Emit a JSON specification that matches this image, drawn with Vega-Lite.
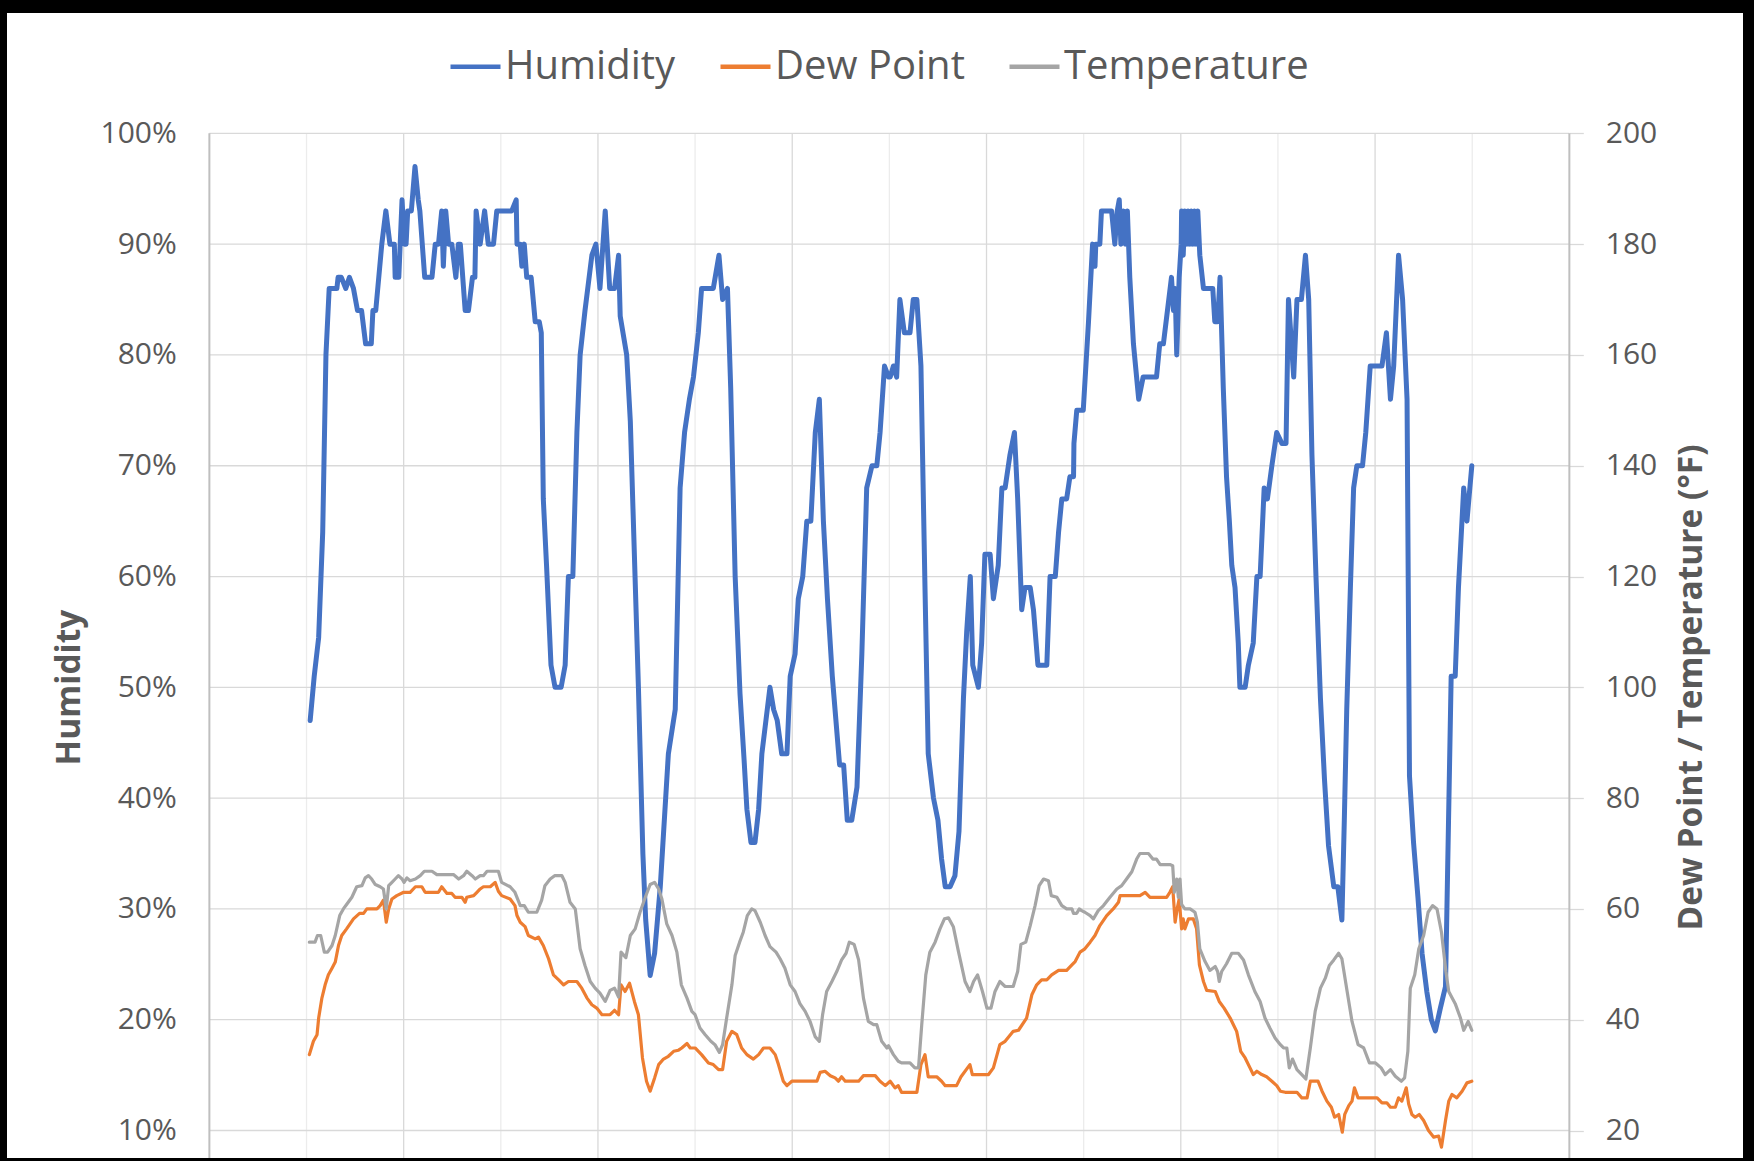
{
"$schema":"https://vega.github.io/schema/vega-lite/v6.json",
"width":1736,"height":1145,
"autosize":{"type":"none"},
"padding":{"left":7,"top":13,"right":11,"bottom":3},
"background":"black",
"config":{"view":{"fill":"white","stroke":null},"font":"Open Sans"},
"datasets":{
"vminor":[{"h":24},{"h":72},{"h":120},{"h":168},{"h":216},{"h":264},{"h":312}],
"vmajor":[{"h":48},{"h":96},{"h":144},{"h":192},{"h":240},{"h":288}],
"frame":[{"h":0},{"h":336}],
"hgrid":[{"p":10},{"p":20},{"p":30},{"p":40},{"p":50},{"p":60},{"p":70},{"p":80},{"p":90},{"p":100}],
"hum":[
{"h":24.9,"v":47,"s":"Humidity"},{"h":25.9,"v":51,"s":"Humidity"},{"h":27.0,"v":54.5,"s":"Humidity"},{"h":28.0,"v":64,"s":"Humidity"},{"h":28.8,"v":80,"s":"Humidity"},{"h":29.6,"v":86,"s":"Humidity"},{"h":31.5,"v":86,"s":"Humidity"},{"h":31.8,"v":87,"s":"Humidity"},{"h":32.6,"v":87,"s":"Humidity"},{"h":33.7,"v":86,"s":"Humidity"},{"h":34.6,"v":87,"s":"Humidity"},{"h":35.6,"v":86,"s":"Humidity"},{"h":36.6,"v":84,"s":"Humidity"},{"h":37.6,"v":84,"s":"Humidity"},{"h":38.6,"v":81,"s":"Humidity"},{"h":40.0,"v":81,"s":"Humidity"},{"h":40.4,"v":84,"s":"Humidity"},{"h":41.1,"v":84,"s":"Humidity"},{"h":42.6,"v":90,"s":"Humidity"},{"h":43.6,"v":93,"s":"Humidity"},{"h":44.6,"v":90,"s":"Humidity"},{"h":45.7,"v":90,"s":"Humidity"},{"h":45.9,"v":87,"s":"Humidity"},{"h":46.8,"v":87,"s":"Humidity"},{"h":47.6,"v":94,"s":"Humidity"},{"h":48.2,"v":90,"s":"Humidity"},{"h":48.6,"v":90,"s":"Humidity"},{"h":49.0,"v":93,"s":"Humidity"},{"h":49.9,"v":93,"s":"Humidity"},{"h":50.8,"v":97,"s":"Humidity"},{"h":51.6,"v":94,"s":"Humidity"},{"h":52.0,"v":93,"s":"Humidity"},{"h":53.2,"v":87,"s":"Humidity"},{"h":55.0,"v":87,"s":"Humidity"},{"h":55.8,"v":90,"s":"Humidity"},{"h":56.6,"v":90,"s":"Humidity"},{"h":57.4,"v":93,"s":"Humidity"},{"h":57.8,"v":88,"s":"Humidity"},{"h":58.4,"v":93,"s":"Humidity"},{"h":59.1,"v":90,"s":"Humidity"},{"h":59.9,"v":90,"s":"Humidity"},{"h":60.9,"v":87,"s":"Humidity"},{"h":61.5,"v":90,"s":"Humidity"},{"h":62.0,"v":90,"s":"Humidity"},{"h":63.2,"v":84,"s":"Humidity"},{"h":64.0,"v":84,"s":"Humidity"},{"h":65.0,"v":87,"s":"Humidity"},{"h":65.6,"v":87,"s":"Humidity"},{"h":65.9,"v":93,"s":"Humidity"},{"h":66.9,"v":90,"s":"Humidity"},{"h":68.0,"v":93,"s":"Humidity"},{"h":68.9,"v":90,"s":"Humidity"},{"h":70.2,"v":90,"s":"Humidity"},{"h":71.0,"v":93,"s":"Humidity"},{"h":74.7,"v":93,"s":"Humidity"},{"h":75.8,"v":94,"s":"Humidity"},{"h":76.0,"v":90,"s":"Humidity"},{"h":76.8,"v":90,"s":"Humidity"},{"h":77.2,"v":88,"s":"Humidity"},{"h":77.8,"v":90,"s":"Humidity"},{"h":78.4,"v":87,"s":"Humidity"},{"h":79.5,"v":87,"s":"Humidity"},{"h":80.5,"v":83,"s":"Humidity"},{"h":81.5,"v":83,"s":"Humidity"},{"h":82.0,"v":82,"s":"Humidity"},{"h":82.5,"v":67,"s":"Humidity"},{"h":83.3,"v":61,"s":"Humidity"},{"h":84.4,"v":52,"s":"Humidity"},{"h":85.4,"v":50,"s":"Humidity"},{"h":86.9,"v":50,"s":"Humidity"},{"h":87.9,"v":52,"s":"Humidity"},{"h":88.7,"v":60,"s":"Humidity"},{"h":89.8,"v":60,"s":"Humidity"},{"h":90.8,"v":73,"s":"Humidity"},{"h":91.6,"v":80,"s":"Humidity"},{"h":92.8,"v":84,"s":"Humidity"},{"h":94.5,"v":89,"s":"Humidity"},{"h":95.5,"v":90,"s":"Humidity"},{"h":96.5,"v":86,"s":"Humidity"},{"h":97.8,"v":93,"s":"Humidity"},{"h":98.9,"v":86,"s":"Humidity"},{"h":100.1,"v":86,"s":"Humidity"},{"h":101.1,"v":89,"s":"Humidity"},{"h":101.5,"v":83.5,"s":"Humidity"},{"h":103.1,"v":80,"s":"Humidity"},{"h":104.0,"v":74,"s":"Humidity"},{"h":106.0,"v":50,"s":"Humidity"},{"h":107.1,"v":35,"s":"Humidity"},{"h":107.8,"v":29,"s":"Humidity"},{"h":108.9,"v":24,"s":"Humidity"},{"h":110.0,"v":26,"s":"Humidity"},{"h":111.4,"v":32,"s":"Humidity"},{"h":113.4,"v":44,"s":"Humidity"},{"h":115.1,"v":48,"s":"Humidity"},{"h":116.3,"v":68,"s":"Humidity"},{"h":117.4,"v":73,"s":"Humidity"},{"h":118.6,"v":76,"s":"Humidity"},{"h":119.6,"v":78,"s":"Humidity"},{"h":120.8,"v":82,"s":"Humidity"},{"h":121.6,"v":86,"s":"Humidity"},{"h":124.5,"v":86,"s":"Humidity"},{"h":125.9,"v":89,"s":"Humidity"},{"h":126.8,"v":85,"s":"Humidity"},{"h":128.0,"v":86,"s":"Humidity"},{"h":128.8,"v":77,"s":"Humidity"},{"h":129.9,"v":60,"s":"Humidity"},{"h":131.1,"v":49.4,"s":"Humidity"},{"h":132.1,"v":43.5,"s":"Humidity"},{"h":132.8,"v":39,"s":"Humidity"},{"h":133.8,"v":36,"s":"Humidity"},{"h":134.8,"v":36,"s":"Humidity"},{"h":135.7,"v":39,"s":"Humidity"},{"h":136.5,"v":44,"s":"Humidity"},{"h":137.5,"v":47,"s":"Humidity"},{"h":138.5,"v":50,"s":"Humidity"},{"h":139.4,"v":48,"s":"Humidity"},{"h":140.3,"v":47,"s":"Humidity"},{"h":141.4,"v":44,"s":"Humidity"},{"h":142.7,"v":44,"s":"Humidity"},{"h":143.5,"v":51,"s":"Humidity"},{"h":144.7,"v":53,"s":"Humidity"},{"h":145.5,"v":58,"s":"Humidity"},{"h":146.6,"v":60,"s":"Humidity"},{"h":147.6,"v":65,"s":"Humidity"},{"h":148.6,"v":65,"s":"Humidity"},{"h":149.7,"v":73,"s":"Humidity"},{"h":150.7,"v":76,"s":"Humidity"},{"h":151.7,"v":65,"s":"Humidity"},{"h":152.7,"v":58,"s":"Humidity"},{"h":153.9,"v":51,"s":"Humidity"},{"h":155.7,"v":43,"s":"Humidity"},{"h":156.7,"v":43,"s":"Humidity"},{"h":157.6,"v":38,"s":"Humidity"},{"h":158.7,"v":38,"s":"Humidity"},{"h":160.0,"v":41,"s":"Humidity"},{"h":161.2,"v":53,"s":"Humidity"},{"h":162.4,"v":68,"s":"Humidity"},{"h":163.7,"v":70,"s":"Humidity"},{"h":164.9,"v":70,"s":"Humidity"},{"h":165.7,"v":73,"s":"Humidity"},{"h":166.8,"v":79,"s":"Humidity"},{"h":167.8,"v":78,"s":"Humidity"},{"h":168.2,"v":78,"s":"Humidity"},{"h":169.0,"v":79,"s":"Humidity"},{"h":169.8,"v":78,"s":"Humidity"},{"h":170.6,"v":85,"s":"Humidity"},{"h":171.7,"v":82,"s":"Humidity"},{"h":173.1,"v":82,"s":"Humidity"},{"h":173.9,"v":85,"s":"Humidity"},{"h":174.8,"v":85,"s":"Humidity"},{"h":175.8,"v":79,"s":"Humidity"},{"h":176.8,"v":59,"s":"Humidity"},{"h":177.6,"v":44,"s":"Humidity"},{"h":178.9,"v":40,"s":"Humidity"},{"h":180.0,"v":38,"s":"Humidity"},{"h":180.9,"v":34.5,"s":"Humidity"},{"h":181.8,"v":32,"s":"Humidity"},{"h":183.0,"v":32,"s":"Humidity"},{"h":184.2,"v":33,"s":"Humidity"},{"h":185.2,"v":37,"s":"Humidity"},{"h":186.3,"v":49,"s":"Humidity"},{"h":187.1,"v":55,"s":"Humidity"},{"h":188.0,"v":60,"s":"Humidity"},{"h":188.6,"v":52,"s":"Humidity"},{"h":190.0,"v":50,"s":"Humidity"},{"h":190.8,"v":54,"s":"Humidity"},{"h":191.6,"v":62,"s":"Humidity"},{"h":192.9,"v":62,"s":"Humidity"},{"h":193.7,"v":58,"s":"Humidity"},{"h":194.9,"v":61,"s":"Humidity"},{"h":195.8,"v":68,"s":"Humidity"},{"h":196.6,"v":68,"s":"Humidity"},{"h":197.8,"v":71,"s":"Humidity"},{"h":198.9,"v":73,"s":"Humidity"},{"h":199.7,"v":67,"s":"Humidity"},{"h":200.7,"v":57,"s":"Humidity"},{"h":201.5,"v":59,"s":"Humidity"},{"h":202.8,"v":59,"s":"Humidity"},{"h":203.6,"v":57,"s":"Humidity"},{"h":204.7,"v":52,"s":"Humidity"},{"h":206.9,"v":52,"s":"Humidity"},{"h":207.7,"v":60,"s":"Humidity"},{"h":209.0,"v":60,"s":"Humidity"},{"h":209.8,"v":64,"s":"Humidity"},{"h":210.6,"v":67,"s":"Humidity"},{"h":211.8,"v":67,"s":"Humidity"},{"h":212.6,"v":69,"s":"Humidity"},{"h":213.5,"v":69,"s":"Humidity"},{"h":213.6,"v":72,"s":"Humidity"},{"h":214.3,"v":75,"s":"Humidity"},{"h":215.9,"v":75,"s":"Humidity"},{"h":217.2,"v":83,"s":"Humidity"},{"h":218.2,"v":90,"s":"Humidity"},{"h":218.8,"v":88,"s":"Humidity"},{"h":219.0,"v":90,"s":"Humidity"},{"h":220.0,"v":90,"s":"Humidity"},{"h":220.4,"v":93,"s":"Humidity"},{"h":222.9,"v":93,"s":"Humidity"},{"h":223.7,"v":90,"s":"Humidity"},{"h":224.3,"v":93,"s":"Humidity"},{"h":224.8,"v":94,"s":"Humidity"},{"h":225.2,"v":90,"s":"Humidity"},{"h":225.8,"v":93,"s":"Humidity"},{"h":226.3,"v":90,"s":"Humidity"},{"h":226.8,"v":93,"s":"Humidity"},{"h":227.4,"v":87,"s":"Humidity"},{"h":228.3,"v":81,"s":"Humidity"},{"h":229.6,"v":76,"s":"Humidity"},{"h":230.7,"v":78,"s":"Humidity"},{"h":234.0,"v":78,"s":"Humidity"},{"h":234.8,"v":81,"s":"Humidity"},{"h":235.7,"v":81,"s":"Humidity"},{"h":236.7,"v":84,"s":"Humidity"},{"h":237.7,"v":87,"s":"Humidity"},{"h":238.2,"v":84,"s":"Humidity"},{"h":238.6,"v":86,"s":"Humidity"},{"h":239.0,"v":80,"s":"Humidity"},{"h":239.6,"v":87,"s":"Humidity"},{"h":240.1,"v":90,"s":"Humidity"},{"h":240.2,"v":93,"s":"Humidity"},{"h":240.6,"v":89,"s":"Humidity"},{"h":241.0,"v":93,"s":"Humidity"},{"h":241.4,"v":90,"s":"Humidity"},{"h":241.8,"v":93,"s":"Humidity"},{"h":242.2,"v":90,"s":"Humidity"},{"h":242.6,"v":93,"s":"Humidity"},{"h":243.0,"v":90,"s":"Humidity"},{"h":243.4,"v":93,"s":"Humidity"},{"h":243.8,"v":90,"s":"Humidity"},{"h":244.2,"v":93,"s":"Humidity"},{"h":244.7,"v":89,"s":"Humidity"},{"h":245.6,"v":86,"s":"Humidity"},{"h":247.9,"v":86,"s":"Humidity"},{"h":248.4,"v":83,"s":"Humidity"},{"h":249.1,"v":83,"s":"Humidity"},{"h":249.7,"v":87,"s":"Humidity"},{"h":250.5,"v":77,"s":"Humidity"},{"h":251.3,"v":69,"s":"Humidity"},{"h":252.0,"v":65,"s":"Humidity"},{"h":252.6,"v":61,"s":"Humidity"},{"h":253.4,"v":59,"s":"Humidity"},{"h":254.2,"v":54,"s":"Humidity"},{"h":254.6,"v":50,"s":"Humidity"},{"h":255.9,"v":50,"s":"Humidity"},{"h":256.7,"v":52,"s":"Humidity"},{"h":257.9,"v":54,"s":"Humidity"},{"h":258.8,"v":60,"s":"Humidity"},{"h":259.6,"v":60,"s":"Humidity"},{"h":260.6,"v":68,"s":"Humidity"},{"h":261.4,"v":67,"s":"Humidity"},{"h":262.5,"v":70,"s":"Humidity"},{"h":263.7,"v":73,"s":"Humidity"},{"h":265.0,"v":72,"s":"Humidity"},{"h":266.0,"v":72,"s":"Humidity"},{"h":266.6,"v":85,"s":"Humidity"},{"h":267.9,"v":78,"s":"Humidity"},{"h":268.7,"v":85,"s":"Humidity"},{"h":269.8,"v":85,"s":"Humidity"},{"h":270.8,"v":89,"s":"Humidity"},{"h":271.6,"v":85,"s":"Humidity"},{"h":272.4,"v":71,"s":"Humidity"},{"h":273.4,"v":60,"s":"Humidity"},{"h":274.5,"v":49,"s":"Humidity"},{"h":275.5,"v":41.7,"s":"Humidity"},{"h":276.5,"v":35.7,"s":"Humidity"},{"h":277.8,"v":32,"s":"Humidity"},{"h":278.8,"v":32,"s":"Humidity"},{"h":279.8,"v":29,"s":"Humidity"},{"h":280.4,"v":38,"s":"Humidity"},{"h":281.0,"v":48,"s":"Humidity"},{"h":281.9,"v":59,"s":"Humidity"},{"h":282.7,"v":68,"s":"Humidity"},{"h":283.5,"v":70,"s":"Humidity"},{"h":284.9,"v":70,"s":"Humidity"},{"h":285.7,"v":73,"s":"Humidity"},{"h":286.8,"v":79,"s":"Humidity"},{"h":289.7,"v":79,"s":"Humidity"},{"h":290.8,"v":82,"s":"Humidity"},{"h":291.8,"v":76,"s":"Humidity"},{"h":292.6,"v":79,"s":"Humidity"},{"h":293.8,"v":89,"s":"Humidity"},{"h":294.8,"v":85,"s":"Humidity"},{"h":295.9,"v":76,"s":"Humidity"},{"h":296.5,"v":42,"s":"Humidity"},{"h":297.5,"v":36,"s":"Humidity"},{"h":298.6,"v":31,"s":"Humidity"},{"h":299.6,"v":26,"s":"Humidity"},{"h":300.8,"v":22.5,"s":"Humidity"},{"h":301.9,"v":20,"s":"Humidity"},{"h":302.9,"v":19,"s":"Humidity"},{"h":304.1,"v":21,"s":"Humidity"},{"h":305.4,"v":23,"s":"Humidity"},{"h":306.0,"v":35,"s":"Humidity"},{"h":306.8,"v":51,"s":"Humidity"},{"h":307.8,"v":51,"s":"Humidity"},{"h":308.6,"v":59,"s":"Humidity"},{"h":309.9,"v":68,"s":"Humidity"},{"h":310.7,"v":65,"s":"Humidity"},{"h":311.9,"v":70,"s":"Humidity"}
],
"dew":[
{"h":24.7,"v":33.7,"s":"Dew Point"},{"h":25.7,"v":36.1,"s":"Dew Point"},{"h":26.6,"v":37.3,"s":"Dew Point"},{"h":27.0,"v":40.3,"s":"Dew Point"},{"h":27.8,"v":43.9,"s":"Dew Point"},{"h":28.6,"v":46.3,"s":"Dew Point"},{"h":29.4,"v":48.1,"s":"Dew Point"},{"h":30.3,"v":49.3,"s":"Dew Point"},{"h":31.1,"v":50.4,"s":"Dew Point"},{"h":31.9,"v":53.4,"s":"Dew Point"},{"h":32.7,"v":55.2,"s":"Dew Point"},{"h":33.9,"v":56.4,"s":"Dew Point"},{"h":35.6,"v":58.2,"s":"Dew Point"},{"h":37.1,"v":59.2,"s":"Dew Point"},{"h":38.1,"v":59.2,"s":"Dew Point"},{"h":38.9,"v":60,"s":"Dew Point"},{"h":41.4,"v":60,"s":"Dew Point"},{"h":42.2,"v":60.6,"s":"Dew Point"},{"h":43.0,"v":61.6,"s":"Dew Point"},{"h":43.7,"v":57.6,"s":"Dew Point"},{"h":44.3,"v":60,"s":"Dew Point"},{"h":45.1,"v":61.8,"s":"Dew Point"},{"h":46.3,"v":62.4,"s":"Dew Point"},{"h":48.0,"v":63,"s":"Dew Point"},{"h":49.6,"v":63,"s":"Dew Point"},{"h":50.9,"v":64,"s":"Dew Point"},{"h":52.5,"v":64,"s":"Dew Point"},{"h":53.3,"v":63,"s":"Dew Point"},{"h":56.6,"v":63,"s":"Dew Point"},{"h":57.4,"v":64,"s":"Dew Point"},{"h":58.7,"v":62.8,"s":"Dew Point"},{"h":59.9,"v":62.8,"s":"Dew Point"},{"h":60.7,"v":62.1,"s":"Dew Point"},{"h":62.4,"v":62.1,"s":"Dew Point"},{"h":63.2,"v":61.2,"s":"Dew Point"},{"h":63.6,"v":62.1,"s":"Dew Point"},{"h":65.3,"v":62.4,"s":"Dew Point"},{"h":66.1,"v":63,"s":"Dew Point"},{"h":66.9,"v":63.6,"s":"Dew Point"},{"h":67.7,"v":64,"s":"Dew Point"},{"h":69.4,"v":64,"s":"Dew Point"},{"h":70.6,"v":64.8,"s":"Dew Point"},{"h":71.4,"v":63.2,"s":"Dew Point"},{"h":72.2,"v":62.4,"s":"Dew Point"},{"h":74.3,"v":61.8,"s":"Dew Point"},{"h":75.5,"v":60.6,"s":"Dew Point"},{"h":76.0,"v":58.8,"s":"Dew Point"},{"h":76.8,"v":57.6,"s":"Dew Point"},{"h":78.0,"v":56.8,"s":"Dew Point"},{"h":78.8,"v":55.2,"s":"Dew Point"},{"h":80.5,"v":54.6,"s":"Dew Point"},{"h":81.3,"v":54.9,"s":"Dew Point"},{"h":82.5,"v":53.4,"s":"Dew Point"},{"h":83.8,"v":51,"s":"Dew Point"},{"h":85.0,"v":48.1,"s":"Dew Point"},{"h":86.3,"v":47.2,"s":"Dew Point"},{"h":87.5,"v":46.3,"s":"Dew Point"},{"h":88.7,"v":46.9,"s":"Dew Point"},{"h":90.8,"v":46.9,"s":"Dew Point"},{"h":92.0,"v":45.7,"s":"Dew Point"},{"h":93.3,"v":43.9,"s":"Dew Point"},{"h":94.5,"v":42.7,"s":"Dew Point"},{"h":95.7,"v":42.1,"s":"Dew Point"},{"h":97.0,"v":40.9,"s":"Dew Point"},{"h":99.0,"v":40.9,"s":"Dew Point"},{"h":100.1,"v":41.7,"s":"Dew Point"},{"h":101.1,"v":40.9,"s":"Dew Point"},{"h":101.7,"v":46.3,"s":"Dew Point"},{"h":102.7,"v":45.1,"s":"Dew Point"},{"h":103.8,"v":46.6,"s":"Dew Point"},{"h":105.0,"v":43.3,"s":"Dew Point"},{"h":106.0,"v":40.9,"s":"Dew Point"},{"h":107.0,"v":33.1,"s":"Dew Point"},{"h":108.0,"v":28.9,"s":"Dew Point"},{"h":108.9,"v":27.1,"s":"Dew Point"},{"h":110.0,"v":29.5,"s":"Dew Point"},{"h":111.0,"v":31.9,"s":"Dew Point"},{"h":112.2,"v":32.9,"s":"Dew Point"},{"h":113.4,"v":33.4,"s":"Dew Point"},{"h":114.7,"v":34.3,"s":"Dew Point"},{"h":115.9,"v":34.5,"s":"Dew Point"},{"h":116.7,"v":34.9,"s":"Dew Point"},{"h":118.0,"v":35.7,"s":"Dew Point"},{"h":118.8,"v":34.9,"s":"Dew Point"},{"h":120.0,"v":34.9,"s":"Dew Point"},{"h":121.6,"v":33.7,"s":"Dew Point"},{"h":123.3,"v":32.2,"s":"Dew Point"},{"h":124.5,"v":31.9,"s":"Dew Point"},{"h":125.8,"v":31,"s":"Dew Point"},{"h":126.8,"v":31,"s":"Dew Point"},{"h":127.8,"v":36.1,"s":"Dew Point"},{"h":129.1,"v":37.9,"s":"Dew Point"},{"h":130.3,"v":37.3,"s":"Dew Point"},{"h":131.5,"v":34.9,"s":"Dew Point"},{"h":132.8,"v":33.7,"s":"Dew Point"},{"h":134.4,"v":32.9,"s":"Dew Point"},{"h":135.7,"v":33.7,"s":"Dew Point"},{"h":136.9,"v":34.9,"s":"Dew Point"},{"h":138.5,"v":34.9,"s":"Dew Point"},{"h":139.8,"v":33.7,"s":"Dew Point"},{"h":140.6,"v":31.9,"s":"Dew Point"},{"h":141.8,"v":28.9,"s":"Dew Point"},{"h":142.7,"v":28.1,"s":"Dew Point"},{"h":143.9,"v":28.9,"s":"Dew Point"},{"h":150.1,"v":28.9,"s":"Dew Point"},{"h":150.9,"v":30.5,"s":"Dew Point"},{"h":152.1,"v":30.7,"s":"Dew Point"},{"h":153.4,"v":29.9,"s":"Dew Point"},{"h":154.6,"v":29.5,"s":"Dew Point"},{"h":155.4,"v":28.9,"s":"Dew Point"},{"h":156.2,"v":29.7,"s":"Dew Point"},{"h":157.1,"v":28.9,"s":"Dew Point"},{"h":160.4,"v":28.9,"s":"Dew Point"},{"h":161.6,"v":29.9,"s":"Dew Point"},{"h":164.5,"v":29.9,"s":"Dew Point"},{"h":165.7,"v":28.9,"s":"Dew Point"},{"h":167.0,"v":28.1,"s":"Dew Point"},{"h":168.2,"v":28.9,"s":"Dew Point"},{"h":169.4,"v":27.7,"s":"Dew Point"},{"h":170.2,"v":28.1,"s":"Dew Point"},{"h":171.0,"v":26.9,"s":"Dew Point"},{"h":174.8,"v":26.9,"s":"Dew Point"},{"h":175.8,"v":31.9,"s":"Dew Point"},{"h":176.8,"v":33.7,"s":"Dew Point"},{"h":177.6,"v":29.7,"s":"Dew Point"},{"h":179.7,"v":29.7,"s":"Dew Point"},{"h":180.9,"v":28.9,"s":"Dew Point"},{"h":181.8,"v":28.1,"s":"Dew Point"},{"h":184.6,"v":28.1,"s":"Dew Point"},{"h":185.7,"v":29.7,"s":"Dew Point"},{"h":187.9,"v":31.9,"s":"Dew Point"},{"h":188.5,"v":30.1,"s":"Dew Point"},{"h":192.5,"v":30.1,"s":"Dew Point"},{"h":193.7,"v":31.3,"s":"Dew Point"},{"h":195.3,"v":35.5,"s":"Dew Point"},{"h":196.6,"v":36.1,"s":"Dew Point"},{"h":198.6,"v":37.9,"s":"Dew Point"},{"h":199.9,"v":38.1,"s":"Dew Point"},{"h":201.9,"v":40.3,"s":"Dew Point"},{"h":203.2,"v":44.5,"s":"Dew Point"},{"h":204.4,"v":46.3,"s":"Dew Point"},{"h":205.6,"v":47.2,"s":"Dew Point"},{"h":206.9,"v":47.2,"s":"Dew Point"},{"h":208.1,"v":48.1,"s":"Dew Point"},{"h":209.8,"v":48.9,"s":"Dew Point"},{"h":211.8,"v":48.9,"s":"Dew Point"},{"h":213.1,"v":49.9,"s":"Dew Point"},{"h":213.9,"v":50.5,"s":"Dew Point"},{"h":215.1,"v":52.2,"s":"Dew Point"},{"h":216.3,"v":52.8,"s":"Dew Point"},{"h":217.6,"v":54,"s":"Dew Point"},{"h":218.8,"v":55.2,"s":"Dew Point"},{"h":220.0,"v":57,"s":"Dew Point"},{"h":221.7,"v":58.8,"s":"Dew Point"},{"h":223.3,"v":60,"s":"Dew Point"},{"h":224.6,"v":61.2,"s":"Dew Point"},{"h":225.0,"v":62.4,"s":"Dew Point"},{"h":229.9,"v":62.4,"s":"Dew Point"},{"h":231.2,"v":63,"s":"Dew Point"},{"h":232.4,"v":62.1,"s":"Dew Point"},{"h":236.5,"v":62.1,"s":"Dew Point"},{"h":237.3,"v":63,"s":"Dew Point"},{"h":238.0,"v":64,"s":"Dew Point"},{"h":238.6,"v":57.6,"s":"Dew Point"},{"h":239.1,"v":60,"s":"Dew Point"},{"h":239.6,"v":61.8,"s":"Dew Point"},{"h":240.2,"v":56.4,"s":"Dew Point"},{"h":240.6,"v":58.2,"s":"Dew Point"},{"h":241.0,"v":56.4,"s":"Dew Point"},{"h":241.9,"v":58.2,"s":"Dew Point"},{"h":243.1,"v":58.2,"s":"Dew Point"},{"h":243.9,"v":56.4,"s":"Dew Point"},{"h":244.6,"v":49.9,"s":"Dew Point"},{"h":245.6,"v":46.9,"s":"Dew Point"},{"h":246.4,"v":45.3,"s":"Dew Point"},{"h":248.5,"v":45.1,"s":"Dew Point"},{"h":249.5,"v":43.3,"s":"Dew Point"},{"h":250.7,"v":42.1,"s":"Dew Point"},{"h":252.2,"v":40.3,"s":"Dew Point"},{"h":253.0,"v":39.1,"s":"Dew Point"},{"h":253.8,"v":37.9,"s":"Dew Point"},{"h":254.8,"v":34.3,"s":"Dew Point"},{"h":255.9,"v":33.1,"s":"Dew Point"},{"h":257.1,"v":31.3,"s":"Dew Point"},{"h":257.9,"v":30.1,"s":"Dew Point"},{"h":258.8,"v":30.7,"s":"Dew Point"},{"h":260.0,"v":30.1,"s":"Dew Point"},{"h":261.2,"v":29.7,"s":"Dew Point"},{"h":262.5,"v":28.9,"s":"Dew Point"},{"h":263.7,"v":28.1,"s":"Dew Point"},{"h":264.6,"v":27.1,"s":"Dew Point"},{"h":265.8,"v":26.9,"s":"Dew Point"},{"h":268.7,"v":26.9,"s":"Dew Point"},{"h":269.9,"v":25.9,"s":"Dew Point"},{"h":271.2,"v":25.9,"s":"Dew Point"},{"h":272.0,"v":28.9,"s":"Dew Point"},{"h":273.9,"v":28.9,"s":"Dew Point"},{"h":274.9,"v":27.1,"s":"Dew Point"},{"h":276.1,"v":25.3,"s":"Dew Point"},{"h":277.2,"v":24.2,"s":"Dew Point"},{"h":278.0,"v":22.4,"s":"Dew Point"},{"h":279.0,"v":22.9,"s":"Dew Point"},{"h":279.9,"v":19.7,"s":"Dew Point"},{"h":280.5,"v":22.9,"s":"Dew Point"},{"h":281.5,"v":24.5,"s":"Dew Point"},{"h":282.3,"v":25.3,"s":"Dew Point"},{"h":282.9,"v":27.7,"s":"Dew Point"},{"h":283.8,"v":25.9,"s":"Dew Point"},{"h":288.5,"v":25.9,"s":"Dew Point"},{"h":289.7,"v":25,"s":"Dew Point"},{"h":290.9,"v":25,"s":"Dew Point"},{"h":291.8,"v":24.2,"s":"Dew Point"},{"h":293.0,"v":24.2,"s":"Dew Point"},{"h":293.8,"v":25.9,"s":"Dew Point"},{"h":294.6,"v":25.3,"s":"Dew Point"},{"h":295.7,"v":27.7,"s":"Dew Point"},{"h":296.3,"v":24.8,"s":"Dew Point"},{"h":297.1,"v":22.9,"s":"Dew Point"},{"h":297.9,"v":22.4,"s":"Dew Point"},{"h":298.9,"v":22.9,"s":"Dew Point"},{"h":300.0,"v":21.8,"s":"Dew Point"},{"h":301.2,"v":20,"s":"Dew Point"},{"h":302.5,"v":18.8,"s":"Dew Point"},{"h":303.7,"v":19,"s":"Dew Point"},{"h":304.4,"v":17,"s":"Dew Point"},{"h":305.4,"v":21.8,"s":"Dew Point"},{"h":306.2,"v":25.3,"s":"Dew Point"},{"h":307.0,"v":26.5,"s":"Dew Point"},{"h":308.2,"v":25.9,"s":"Dew Point"},{"h":309.5,"v":27.1,"s":"Dew Point"},{"h":310.7,"v":28.6,"s":"Dew Point"},{"h":311.9,"v":28.9,"s":"Dew Point"}
],
"tmp":[
{"h":24.7,"v":54,"s":"Temperature"},{"h":26.1,"v":54,"s":"Temperature"},{"h":26.7,"v":55.2,"s":"Temperature"},{"h":27.5,"v":55.2,"s":"Temperature"},{"h":28.4,"v":52.2,"s":"Temperature"},{"h":29.2,"v":52.2,"s":"Temperature"},{"h":30.3,"v":53.4,"s":"Temperature"},{"h":31.1,"v":55.2,"s":"Temperature"},{"h":32.2,"v":58.8,"s":"Temperature"},{"h":33.1,"v":60,"s":"Temperature"},{"h":33.9,"v":60.8,"s":"Temperature"},{"h":35.2,"v":62.1,"s":"Temperature"},{"h":36.4,"v":64,"s":"Temperature"},{"h":37.7,"v":64.2,"s":"Temperature"},{"h":38.5,"v":65.6,"s":"Temperature"},{"h":39.3,"v":66,"s":"Temperature"},{"h":40.1,"v":65.4,"s":"Temperature"},{"h":41.0,"v":64.4,"s":"Temperature"},{"h":42.2,"v":64,"s":"Temperature"},{"h":43.0,"v":63.6,"s":"Temperature"},{"h":43.7,"v":60,"s":"Temperature"},{"h":44.3,"v":64.2,"s":"Temperature"},{"h":45.1,"v":64.8,"s":"Temperature"},{"h":45.9,"v":65.4,"s":"Temperature"},{"h":46.7,"v":66,"s":"Temperature"},{"h":47.6,"v":65.4,"s":"Temperature"},{"h":48.1,"v":64.8,"s":"Temperature"},{"h":48.8,"v":65.6,"s":"Temperature"},{"h":49.6,"v":65.1,"s":"Temperature"},{"h":50.9,"v":65.4,"s":"Temperature"},{"h":52.1,"v":66,"s":"Temperature"},{"h":53.1,"v":66.8,"s":"Temperature"},{"h":55.0,"v":66.8,"s":"Temperature"},{"h":56.2,"v":66.2,"s":"Temperature"},{"h":60.3,"v":66.2,"s":"Temperature"},{"h":61.6,"v":65.4,"s":"Temperature"},{"h":62.8,"v":66,"s":"Temperature"},{"h":63.6,"v":66.8,"s":"Temperature"},{"h":64.9,"v":66,"s":"Temperature"},{"h":65.7,"v":65.4,"s":"Temperature"},{"h":66.9,"v":66,"s":"Temperature"},{"h":67.7,"v":66,"s":"Temperature"},{"h":68.6,"v":66.8,"s":"Temperature"},{"h":71.4,"v":66.8,"s":"Temperature"},{"h":72.2,"v":64.8,"s":"Temperature"},{"h":74.3,"v":64,"s":"Temperature"},{"h":75.5,"v":63,"s":"Temperature"},{"h":76.8,"v":60.6,"s":"Temperature"},{"h":77.8,"v":60.6,"s":"Temperature"},{"h":78.8,"v":59.4,"s":"Temperature"},{"h":80.9,"v":59.4,"s":"Temperature"},{"h":82.1,"v":61.6,"s":"Temperature"},{"h":82.9,"v":64.2,"s":"Temperature"},{"h":84.2,"v":65.4,"s":"Temperature"},{"h":85.3,"v":66,"s":"Temperature"},{"h":87.1,"v":66,"s":"Temperature"},{"h":87.9,"v":64.8,"s":"Temperature"},{"h":89.1,"v":61.2,"s":"Temperature"},{"h":90.4,"v":60,"s":"Temperature"},{"h":91.6,"v":52.8,"s":"Temperature"},{"h":92.8,"v":49.8,"s":"Temperature"},{"h":94.1,"v":46.9,"s":"Temperature"},{"h":95.3,"v":45.7,"s":"Temperature"},{"h":96.5,"v":44.8,"s":"Temperature"},{"h":97.8,"v":43.3,"s":"Temperature"},{"h":99.0,"v":45.3,"s":"Temperature"},{"h":100.1,"v":45.7,"s":"Temperature"},{"h":101.1,"v":44.1,"s":"Temperature"},{"h":101.7,"v":52.2,"s":"Temperature"},{"h":102.9,"v":51.2,"s":"Temperature"},{"h":104.0,"v":55.2,"s":"Temperature"},{"h":105.2,"v":56.4,"s":"Temperature"},{"h":106.4,"v":59.4,"s":"Temperature"},{"h":107.7,"v":62.1,"s":"Temperature"},{"h":108.9,"v":64.4,"s":"Temperature"},{"h":110.0,"v":64.8,"s":"Temperature"},{"h":111.0,"v":63.6,"s":"Temperature"},{"h":111.8,"v":61.8,"s":"Temperature"},{"h":113.0,"v":57.3,"s":"Temperature"},{"h":114.3,"v":55.2,"s":"Temperature"},{"h":115.5,"v":52.2,"s":"Temperature"},{"h":116.6,"v":46.3,"s":"Temperature"},{"h":118.0,"v":43.9,"s":"Temperature"},{"h":119.2,"v":41.5,"s":"Temperature"},{"h":120.0,"v":40.9,"s":"Temperature"},{"h":121.2,"v":38.5,"s":"Temperature"},{"h":122.5,"v":37.3,"s":"Temperature"},{"h":123.9,"v":36.1,"s":"Temperature"},{"h":124.9,"v":35.5,"s":"Temperature"},{"h":126.0,"v":34.1,"s":"Temperature"},{"h":126.8,"v":35.5,"s":"Temperature"},{"h":127.8,"v":40.3,"s":"Temperature"},{"h":129.1,"v":46.3,"s":"Temperature"},{"h":129.9,"v":51.6,"s":"Temperature"},{"h":131.0,"v":54,"s":"Temperature"},{"h":131.9,"v":55.8,"s":"Temperature"},{"h":132.9,"v":58.8,"s":"Temperature"},{"h":134.0,"v":60,"s":"Temperature"},{"h":134.8,"v":59.7,"s":"Temperature"},{"h":136.1,"v":57.6,"s":"Temperature"},{"h":137.3,"v":55.2,"s":"Temperature"},{"h":138.5,"v":53.2,"s":"Temperature"},{"h":140.0,"v":52.2,"s":"Temperature"},{"h":141.0,"v":51,"s":"Temperature"},{"h":142.2,"v":49.3,"s":"Temperature"},{"h":143.5,"v":46.3,"s":"Temperature"},{"h":144.7,"v":45.1,"s":"Temperature"},{"h":145.9,"v":42.9,"s":"Temperature"},{"h":147.2,"v":41.5,"s":"Temperature"},{"h":148.4,"v":39.7,"s":"Temperature"},{"h":149.7,"v":36.9,"s":"Temperature"},{"h":150.7,"v":36.1,"s":"Temperature"},{"h":151.5,"v":40.9,"s":"Temperature"},{"h":152.5,"v":45.1,"s":"Temperature"},{"h":153.8,"v":46.9,"s":"Temperature"},{"h":155.0,"v":48.7,"s":"Temperature"},{"h":156.2,"v":50.8,"s":"Temperature"},{"h":157.3,"v":52,"s":"Temperature"},{"h":158.1,"v":54,"s":"Temperature"},{"h":159.3,"v":53.6,"s":"Temperature"},{"h":160.4,"v":50.8,"s":"Temperature"},{"h":161.6,"v":43.9,"s":"Temperature"},{"h":162.8,"v":39.7,"s":"Temperature"},{"h":164.1,"v":39.1,"s":"Temperature"},{"h":164.9,"v":39.1,"s":"Temperature"},{"h":166.1,"v":36.1,"s":"Temperature"},{"h":167.4,"v":34.9,"s":"Temperature"},{"h":167.8,"v":35.3,"s":"Temperature"},{"h":169.0,"v":33.7,"s":"Temperature"},{"h":170.2,"v":32.5,"s":"Temperature"},{"h":171.0,"v":32.2,"s":"Temperature"},{"h":173.1,"v":32.2,"s":"Temperature"},{"h":174.3,"v":31.3,"s":"Temperature"},{"h":175.2,"v":31.3,"s":"Temperature"},{"h":176.0,"v":39.1,"s":"Temperature"},{"h":177.0,"v":48.1,"s":"Temperature"},{"h":178.0,"v":52.2,"s":"Temperature"},{"h":179.3,"v":54,"s":"Temperature"},{"h":180.5,"v":56.4,"s":"Temperature"},{"h":181.6,"v":58.2,"s":"Temperature"},{"h":182.6,"v":58.4,"s":"Temperature"},{"h":183.8,"v":56.8,"s":"Temperature"},{"h":185.1,"v":52.2,"s":"Temperature"},{"h":186.7,"v":46.9,"s":"Temperature"},{"h":187.9,"v":45.1,"s":"Temperature"},{"h":188.8,"v":46.9,"s":"Temperature"},{"h":189.8,"v":48.1,"s":"Temperature"},{"h":191.0,"v":45.1,"s":"Temperature"},{"h":192.1,"v":42.1,"s":"Temperature"},{"h":193.1,"v":42.1,"s":"Temperature"},{"h":194.1,"v":45.1,"s":"Temperature"},{"h":195.3,"v":46.9,"s":"Temperature"},{"h":196.6,"v":46,"s":"Temperature"},{"h":198.6,"v":46,"s":"Temperature"},{"h":199.7,"v":48.7,"s":"Temperature"},{"h":200.5,"v":53.6,"s":"Temperature"},{"h":201.7,"v":54,"s":"Temperature"},{"h":202.8,"v":57,"s":"Temperature"},{"h":204.0,"v":60.6,"s":"Temperature"},{"h":205.0,"v":64.2,"s":"Temperature"},{"h":206.1,"v":65.4,"s":"Temperature"},{"h":207.3,"v":65.1,"s":"Temperature"},{"h":208.0,"v":62.4,"s":"Temperature"},{"h":209.4,"v":62.1,"s":"Temperature"},{"h":210.6,"v":60.6,"s":"Temperature"},{"h":211.8,"v":60,"s":"Temperature"},{"h":213.1,"v":60,"s":"Temperature"},{"h":213.5,"v":59.2,"s":"Temperature"},{"h":214.3,"v":59.2,"s":"Temperature"},{"h":214.9,"v":60,"s":"Temperature"},{"h":215.5,"v":59.7,"s":"Temperature"},{"h":216.3,"v":59.4,"s":"Temperature"},{"h":217.6,"v":58.8,"s":"Temperature"},{"h":218.4,"v":58.2,"s":"Temperature"},{"h":219.6,"v":59.7,"s":"Temperature"},{"h":220.9,"v":60.6,"s":"Temperature"},{"h":222.5,"v":62.1,"s":"Temperature"},{"h":224.2,"v":63.6,"s":"Temperature"},{"h":225.4,"v":64.2,"s":"Temperature"},{"h":226.6,"v":65.4,"s":"Temperature"},{"h":227.9,"v":66.7,"s":"Temperature"},{"h":229.1,"v":69,"s":"Temperature"},{"h":229.9,"v":70,"s":"Temperature"},{"h":232.0,"v":70,"s":"Temperature"},{"h":233.1,"v":69,"s":"Temperature"},{"h":234.0,"v":69,"s":"Temperature"},{"h":234.9,"v":68,"s":"Temperature"},{"h":237.3,"v":68,"s":"Temperature"},{"h":238.0,"v":67.8,"s":"Temperature"},{"h":238.4,"v":63,"s":"Temperature"},{"h":239.0,"v":65.4,"s":"Temperature"},{"h":239.4,"v":62.1,"s":"Temperature"},{"h":239.8,"v":65.4,"s":"Temperature"},{"h":240.2,"v":60.8,"s":"Temperature"},{"h":241.0,"v":60,"s":"Temperature"},{"h":242.3,"v":60,"s":"Temperature"},{"h":243.5,"v":59.4,"s":"Temperature"},{"h":244.1,"v":57.6,"s":"Temperature"},{"h":244.7,"v":52.8,"s":"Temperature"},{"h":246.0,"v":50.5,"s":"Temperature"},{"h":247.2,"v":48.9,"s":"Temperature"},{"h":248.5,"v":49.6,"s":"Temperature"},{"h":249.1,"v":48.7,"s":"Temperature"},{"h":249.5,"v":46.9,"s":"Temperature"},{"h":250.1,"v":48.7,"s":"Temperature"},{"h":251.3,"v":50.1,"s":"Temperature"},{"h":252.6,"v":52,"s":"Temperature"},{"h":254.2,"v":52,"s":"Temperature"},{"h":255.5,"v":50.8,"s":"Temperature"},{"h":256.7,"v":48.1,"s":"Temperature"},{"h":258.3,"v":45.1,"s":"Temperature"},{"h":259.6,"v":43.3,"s":"Temperature"},{"h":260.8,"v":40.3,"s":"Temperature"},{"h":262.0,"v":38.5,"s":"Temperature"},{"h":263.3,"v":36.7,"s":"Temperature"},{"h":264.6,"v":35.5,"s":"Temperature"},{"h":265.4,"v":34.9,"s":"Temperature"},{"h":266.2,"v":34.9,"s":"Temperature"},{"h":266.8,"v":31.3,"s":"Temperature"},{"h":267.6,"v":32.9,"s":"Temperature"},{"h":268.7,"v":31,"s":"Temperature"},{"h":269.9,"v":30.1,"s":"Temperature"},{"h":270.9,"v":29.3,"s":"Temperature"},{"h":272.0,"v":34.9,"s":"Temperature"},{"h":273.2,"v":41.5,"s":"Temperature"},{"h":274.5,"v":45.7,"s":"Temperature"},{"h":275.7,"v":47.5,"s":"Temperature"},{"h":276.7,"v":49.8,"s":"Temperature"},{"h":277.8,"v":50.8,"s":"Temperature"},{"h":279.0,"v":52,"s":"Temperature"},{"h":279.8,"v":51,"s":"Temperature"},{"h":281.1,"v":45.1,"s":"Temperature"},{"h":282.3,"v":39.7,"s":"Temperature"},{"h":283.8,"v":35.5,"s":"Temperature"},{"h":285.2,"v":34.9,"s":"Temperature"},{"h":286.6,"v":32.2,"s":"Temperature"},{"h":288.1,"v":32.2,"s":"Temperature"},{"h":289.5,"v":31.3,"s":"Temperature"},{"h":290.5,"v":30.1,"s":"Temperature"},{"h":291.8,"v":31,"s":"Temperature"},{"h":293.0,"v":29.8,"s":"Temperature"},{"h":294.5,"v":28.9,"s":"Temperature"},{"h":295.3,"v":29.5,"s":"Temperature"},{"h":296.1,"v":34.3,"s":"Temperature"},{"h":296.7,"v":45.7,"s":"Temperature"},{"h":297.8,"v":48.1,"s":"Temperature"},{"h":298.8,"v":52.8,"s":"Temperature"},{"h":300.0,"v":55.2,"s":"Temperature"},{"h":301.1,"v":59.4,"s":"Temperature"},{"h":302.2,"v":60.6,"s":"Temperature"},{"h":303.3,"v":60,"s":"Temperature"},{"h":304.4,"v":55.8,"s":"Temperature"},{"h":305.5,"v":48.7,"s":"Temperature"},{"h":306.2,"v":45.1,"s":"Temperature"},{"h":307.8,"v":42.9,"s":"Temperature"},{"h":309.1,"v":40.3,"s":"Temperature"},{"h":309.9,"v":38.1,"s":"Temperature"},{"h":311.0,"v":39.7,"s":"Temperature"},{"h":311.9,"v":38.1,"s":"Temperature"}
]
},
"layer":[
{"layer":[
 {"data":{"name":"vminor"},"mark":{"type":"rule","color":"#ececec","strokeWidth":1.3},
  "encoding":{"x":{"field":"h","type":"quantitative","scale":{"domain":[-50,378.9],"nice":false,"zero":false},"axis":null},
   "y":{"datum":7.52,"type":"quantitative","scale":{"domain":[7.52,110.86],"nice":false,"zero":false},
     "axis":{"orient":"left","offset":-202.3,"values":[10,20,30,40,50,60,70,80,90,100],"labelExpr":"datum.value + '%'","domain":false,"ticks":false,"tickSize":0,"grid":false,"labelPadding":33,"labelFont":"Open Sans","labelFontSize":30,"labelColor":"#595959","title":"Humidity","titleFont":"Open Sans","titleFontSize":33.5,"titleFontWeight":"bold","titleColor":"#595959","titleAngle":270,"titleX":-140.3,"titleY":674,"titleAlign":"center","titleBaseline":"middle"}},"y2":{"datum":100}}},
 {"data":{"name":"vmajor"},"mark":{"type":"rule","color":"#d9d9d9","strokeWidth":1.3},
  "encoding":{"x":{"field":"h","type":"quantitative","scale":{"domain":[-50,378.9],"nice":false,"zero":false},"axis":null},
   "y":{"datum":7.52,"type":"quantitative","scale":{"domain":[7.52,110.86],"nice":false,"zero":false},
     "axis":{"orient":"left","offset":-202.3,"values":[10,20,30,40,50,60,70,80,90,100],"labelExpr":"datum.value + '%'","domain":false,"ticks":false,"tickSize":0,"grid":false,"labelPadding":33,"labelFont":"Open Sans","labelFontSize":30,"labelColor":"#595959","title":"Humidity","titleFont":"Open Sans","titleFontSize":33.5,"titleFontWeight":"bold","titleColor":"#595959","titleAngle":270,"titleX":-140.3,"titleY":674,"titleAlign":"center","titleBaseline":"middle"}},"y2":{"datum":100}}},
 {"data":{"name":"hgrid"},"mark":{"type":"rule","color":"#d9d9d9","strokeWidth":1.3},
  "encoding":{"x":{"datum":0,"type":"quantitative","scale":{"domain":[-50,378.9],"nice":false,"zero":false},"axis":null},"x2":{"datum":336},
   "y":{"field":"p","type":"quantitative","scale":{"domain":[7.52,110.86],"nice":false,"zero":false},
     "axis":{"orient":"left","offset":-202.3,"values":[10,20,30,40,50,60,70,80,90,100],"labelExpr":"datum.value + '%'","domain":false,"ticks":false,"tickSize":0,"grid":false,"labelPadding":33,"labelFont":"Open Sans","labelFontSize":30,"labelColor":"#595959","title":"Humidity","titleFont":"Open Sans","titleFontSize":33.5,"titleFontWeight":"bold","titleColor":"#595959","titleAngle":270,"titleX":-140.3,"titleY":674,"titleAlign":"center","titleBaseline":"middle"}}}},
 {"data":{"name":"frame"},"mark":{"type":"rule","color":"#bfbfbf","strokeWidth":2},
  "encoding":{"x":{"field":"h","type":"quantitative","scale":{"domain":[-50,378.9],"nice":false,"zero":false},"axis":null},
   "y":{"datum":7.52,"type":"quantitative","scale":{"domain":[7.52,110.86],"nice":false,"zero":false},
     "axis":{"orient":"left","offset":-202.3,"values":[10,20,30,40,50,60,70,80,90,100],"labelExpr":"datum.value + '%'","domain":false,"ticks":false,"tickSize":0,"grid":false,"labelPadding":33,"labelFont":"Open Sans","labelFontSize":30,"labelColor":"#595959","title":"Humidity","titleFont":"Open Sans","titleFontSize":33.5,"titleFontWeight":"bold","titleColor":"#595959","titleAngle":270,"titleX":-140.3,"titleY":674,"titleAlign":"center","titleBaseline":"middle"}},"y2":{"datum":100}}},
 {"data":{"name":"hum"},"mark":{"type":"line","strokeWidth":5,"strokeJoin":"round","strokeCap":"round"},
  "encoding":{"x":{"field":"h","type":"quantitative","scale":{"domain":[-50,378.9],"nice":false,"zero":false},"axis":null},
   "y":{"field":"v","type":"quantitative","scale":{"domain":[7.52,110.86],"nice":false,"zero":false},
     "axis":{"orient":"left","offset":-202.3,"values":[10,20,30,40,50,60,70,80,90,100],"labelExpr":"datum.value + '%'","domain":false,"ticks":false,"tickSize":0,"grid":false,"labelPadding":33,"labelFont":"Open Sans","labelFontSize":30,"labelColor":"#595959","title":"Humidity","titleFont":"Open Sans","titleFontSize":33.5,"titleFontWeight":"bold","titleColor":"#595959","titleAngle":270,"titleX":-140.3,"titleY":674,"titleAlign":"center","titleBaseline":"middle"}},
   "color":{"field":"s","type":"nominal","scale":{"domain":["Humidity","Dew Point","Temperature"],"range":["#4472C4","#ED7D31","#A5A5A5"]},
     "legend":{"orient":"none","legendX":441,"legendY":26,"direction":"horizontal","title":null,"symbolType":"stroke","symbolSize":2500,"symbolStrokeWidth":4.5,"labelFont":"Open Sans","labelFontSize":40,"labelColor":"#595959","labelOffset":2,"labelLimit":0,"columnPadding":35,"padding":0}}}}
]},
{"layer":[
 {"data":{"name":"dew"},"mark":{"type":"line","strokeWidth":3.2,"strokeJoin":"round","strokeCap":"round"},
  "encoding":{"x":{"field":"h","type":"quantitative","scale":{"domain":[-50,378.9],"nice":false,"zero":false},"axis":null},
   "y":{"field":"v","type":"quantitative","scale":{"domain":[15.04,221.72],"nice":false,"zero":false},
     "axis":{"orient":"right","offset":-173.7,"values":[20,40,60,80,100,120,140,160,180,200],"domain":false,"ticks":true,"tickSize":14,"tickColor":"#d9d9d9","tickWidth":1.3,"grid":false,"labelPadding":22,"labelFont":"Open Sans","labelFontSize":30,"labelColor":"#595959","title":"Dew Point / Temperature (°F)","titleFont":"Open Sans","titleFontSize":33.5,"titleFontWeight":"bold","titleColor":"#595959","titleAngle":270,"titleX":121.7,"titleY":674,"titleAlign":"center","titleBaseline":"middle"}},
   "color":{"field":"s","type":"nominal"}}},
 {"data":{"name":"tmp"},"mark":{"type":"line","strokeWidth":3.2,"strokeJoin":"round","strokeCap":"round"},
  "encoding":{"x":{"field":"h","type":"quantitative","scale":{"domain":[-50,378.9],"nice":false,"zero":false},"axis":null},
   "y":{"field":"v","type":"quantitative","scale":{"domain":[15.04,221.72],"nice":false,"zero":false}},
   "color":{"field":"s","type":"nominal"}}}
]}
],
"resolve":{"scale":{"y":"independent"}}
}
